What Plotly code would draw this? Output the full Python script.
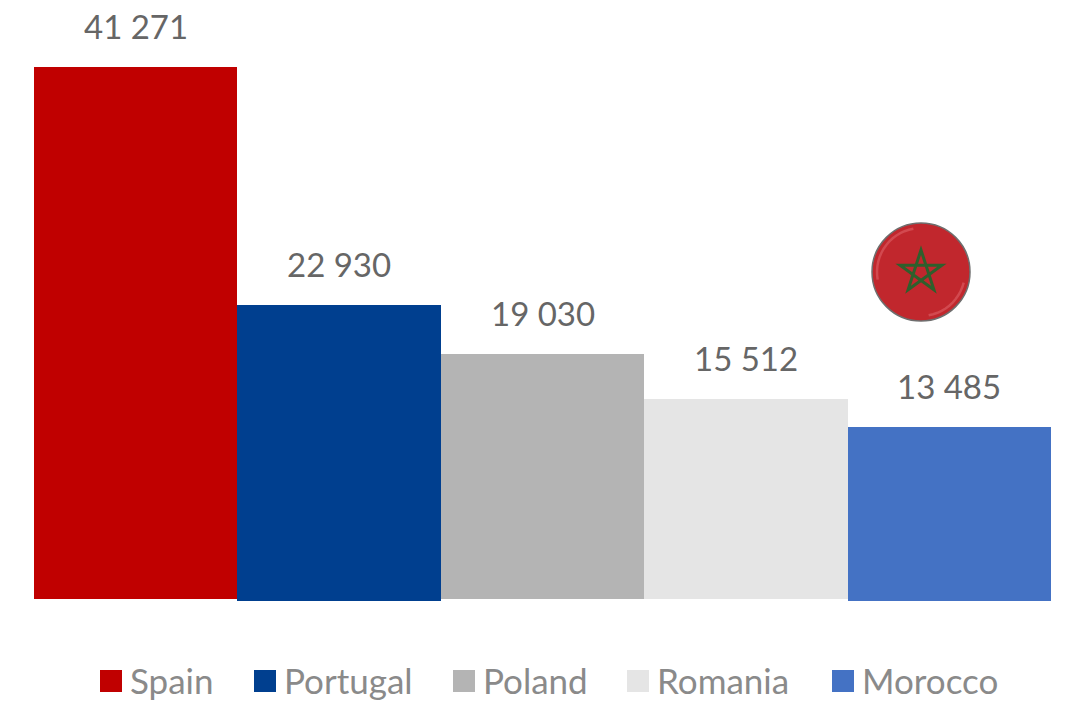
import math
import plotly.graph_objects as go

countries = ["Spain", "Portugal", "Poland", "Romania", "Morocco"]
values = [41271, 22930, 19030, 15512, 13485]
value_labels = ["41 271", "22 930", "19 030", "15 512", "13 485"]
colors = ["#C00000", "#003F8F", "#B4B4B4", "#E5E5E5", "#4472C4"]
# Portugal and Morocco hang slightly below the common baseline in the reference
bar_base = [0, -150, 0, 0, -150]

W, H = 1065, 703
L, R, T, B = 34, 14, 67, 102
PW, PH = W - L - R, H - T - B


def px(x):
    return (x - L) / PW


def py(y):
    return 1 - (y - T) / PH


FONT = "Lato, Carlito, sans-serif"
fig = go.Figure()
for c, v, col, b in zip(countries, values, colors, bar_base):
    fig.add_trace(go.Bar(name=c, x=[c], y=[v], base=b, showlegend=False,
                         marker=dict(color=col, line=dict(width=0))))

# value labels sit a fixed distance above their bars
for c, v, l, b in zip(countries, values, value_labels, bar_base):
    fig.add_annotation(x=c, y=v + b, text=l, showarrow=False, yanchor="middle", yshift=41,
                       font=dict(family=FONT, size=33, color="#666666"))

# legend with large swatches
swatch_x = [100, 254, 453, 627, 832]
SW = 22
shapes = []
for c, col, sx in zip(countries, colors, swatch_x):
    shapes.append(dict(type="rect", xref="paper", yref="paper", x0=px(sx), x1=px(sx + SW),
                       y0=py(692), y1=py(670), fillcolor=col, line=dict(width=0)))
    fig.add_annotation(xref="paper", yref="paper", x=px(sx + SW + 9), y=py(680), text=c,
                       showarrow=False, xanchor="left", yanchor="middle", xshift=-3,
                       font=dict(family=FONT, size=35, color="#8A8A8A"))

# Moroccan flag badge
CX, CY, RAD = 921, 272, 49
shapes.append(dict(type="circle", xref="paper", yref="paper", x0=px(CX - RAD), x1=px(CX + RAD),
                   y0=py(CY + RAD), y1=py(CY - RAD), fillcolor="#C1272D",
                   line=dict(color="#6E6E6E", width=1.5)))


def arc(a0, a1, r):
    pts = [(CX + r * math.cos(math.radians(a)), CY - r * math.sin(math.radians(a)))
           for a in range(a0, a1 + 1, 6)]
    return "M" + "L".join(f"{px(x):.5f},{py(y):.5f}" for x, y in pts)


for a0, a1 in [(100, 190), (280, 350)]:
    shapes.append(dict(type="path", xref="paper", yref="paper", path=arc(a0, a1, RAD - 5),
                       line=dict(color="#D2494F", width=2.5)))

STAR_X, STAR_Y, STAR_R = 921, 272, 22
star = []
for i in [0, 2, 4, 1, 3]:
    a = math.radians(90 + 72 * i)
    star.append((STAR_X + STAR_R * math.cos(a), STAR_Y - STAR_R * math.sin(a)))
star_path = "M" + "L".join(f"{px(x):.5f},{py(y):.5f}" for x, y in star) + "Z"
shapes.append(dict(type="path", xref="paper", yref="paper", path=star_path,
                   line=dict(color="#2F5F2C", width=3)))

fig.update_layout(
    width=W, height=H, margin=dict(l=L, r=R, t=T, b=B, autoexpand=False),
    paper_bgcolor="white", plot_bgcolor="white", barmode="overlay", bargap=0,
    showlegend=False, shapes=shapes,
    xaxis=dict(visible=False, categoryorder="array", categoryarray=countries),
    yaxis=dict(visible=False, range=[-150, 41271]),
)
fig.write_html("out.html", config={"displayModeBar": False},
               post_script="document.body.style.margin='0';document.body.style.overflow='hidden';")
